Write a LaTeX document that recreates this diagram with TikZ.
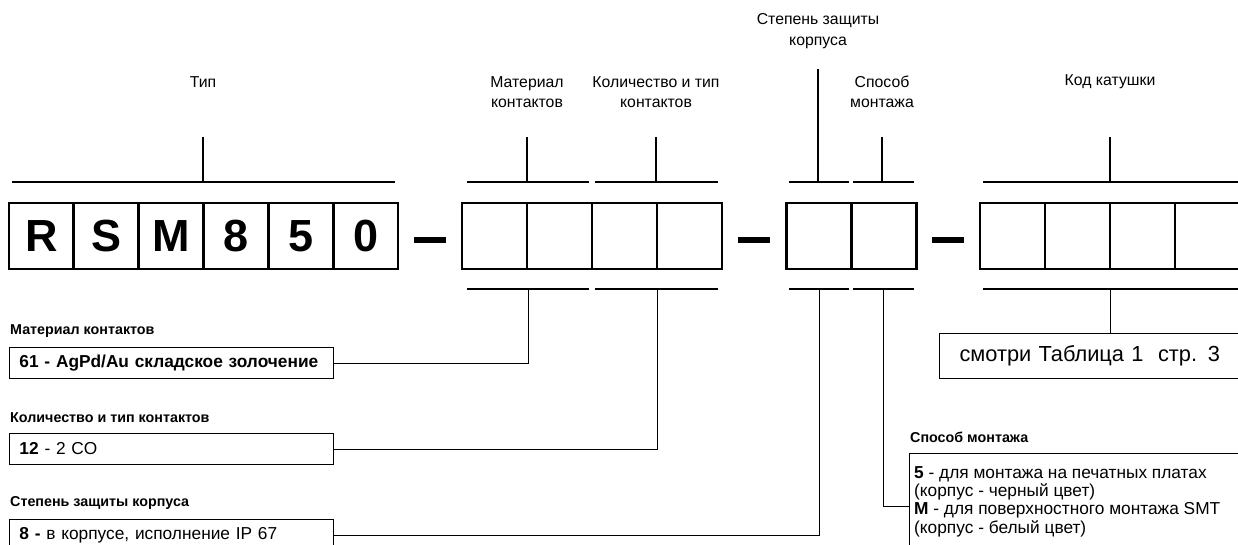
\documentclass[tikz,border=0pt]{standalone}
\usepackage{fontspec}
\setmainfont{Liberation Sans}
\begin{document}
\begin{tikzpicture}[x=1pt,y=-1pt,
  cell/.style={draw, line width=2.8pt, minimum width=65pt, minimum height=66pt, inner sep=0pt,
    font=\fontsize{45}{45}\selectfont\bfseries},
  dashbar/.style={fill=black, draw=none, minimum width=32pt, minimum height=6.5pt, inner sep=0pt},
  brk/.style={line width=2pt},
  stem/.style={line width=1.5pt},
  conn/.style={line width=1pt},
  lbl/.style={align=center, inner sep=0pt, font=\fontsize{15.8}{20.5}\selectfont},
  head/.style={anchor=west, inner sep=0pt, font=\fontsize{14.3}{17}\selectfont\bfseries},
  infobox/.style={draw, line width=1pt, anchor=west, minimum height=31pt, inner xsep=10pt, inner ysep=0pt,
    text width=304pt, align=left, font=\fontsize{17.3}{18}\selectfont},
]
\useasboundingbox (0,0) rectangle (1238,544);

% code cells
\foreach \t [count=\i] in {R,S,M,8,5,0}
  \node[cell] (a\i) at ({9+64.83*(\i-0.5)},236) {\t};
\foreach \i in {1,...,4}
  \node[cell] (b\i) at ({462+65*(\i-0.5)},236) {};
\foreach \i in {1,2}
  \node[cell] (c\i) at ({786+65.5*(\i-0.5)},236) {};
\foreach \i in {1,...,4}
  \node[cell] (d\i) at ({980+65*(\i-0.5)},236) {};

\node[dashbar] (m1) at (430,240) {};
\node[dashbar] (m2) at (754,240) {};
\node[dashbar] (m3) at (948,240) {};

% top brackets
\coordinate (ta) at (203,182);
\coordinate (tb) at (527,182);
\coordinate (tc) at (656,182);
\coordinate (td) at (818,182);
\coordinate (te) at (882,182);
\coordinate (tf) at (1110,182);
\draw[brk] (12,182) -- (395,182);
\draw[brk] (467,182) -- (589,182);
\draw[brk] (595,182) -- (718,182);
\draw[brk] (789,182) -- (849,182);
\draw[brk] (853,182) -- (914,182);
\draw[brk] (983,182) -- (1238,182);

% bottom brackets
\coordinate (ub) at (528,289);
\coordinate (uc) at (657,289);
\coordinate (ud) at (819,289);
\coordinate (ue) at (883,289);
\coordinate (uf) at (1110,289);
\draw[brk] (467,289) -- (589,289);
\draw[brk] (595,289) -- (718,289);
\draw[brk] (789,289) -- (849,289);
\draw[brk] (853,289) -- (914,289);
\draw[brk] (983,289) -- (1238,289);

% top labels
\node[lbl] (lA) at (203,82) {Тип};
\node[lbl] (lB) at (527,92) {Материал\\контактов};
\node[lbl] (lC) at (656,92) {Количество и тип\\контактов};
\node[lbl] (lD) at (818,31) {Степень защиты\\корпуса};
\node[lbl] (lE) at (882,92) {Способ\\монтажа};
\node[lbl] (lF) at (1110,82) {Код катушки};

\draw[stem] (ta) -- ++(0,-45);
\draw[stem] (tb) -- ++(0,-45);
\draw[stem] (tc) -- ++(0,-45);
\draw[stem] (td) -- ++(0,-113);
\draw[stem] (te) -- ++(0,-45);
\draw[stem] (tf) -- ++(0,-45);

% left descriptions
\node[head] (h1) at (10,331) {Материал контактов};
\node[infobox] (i1) at (9,363) {\bfseries 61 - AgPd/Au складское золочение};
\node[head] (h2) at (10,418) {Количество и тип контактов};
\node[infobox] (i2) at (9,449) {\textbf{12} - 2 CO};
\node[head] (h3) at (10,503) {Степень защиты корпуса};
\node[infobox] (i3) at (9,535) {\textbf{8 -} в корпусе, исполнение IP 67};

\draw[conn] (i1.east) -| (ub);
\draw[conn] (i2.east) -| (uc);
\draw[conn] (i3.east) -| (ud);

% right descriptions
\node[draw, line width=1pt, anchor=north west, minimum width=320pt, minimum height=45pt, inner xsep=20pt,
  text width=280pt, align=left, font=\fontsize{21.8}{24}\selectfont] (s1) at (939,333) {смотри Таблица 1~~стр. 3};
\draw[conn] (uf) -- (uf |- s1.north);

\node[head] (h5) at (910,437) {Способ монтажа};
\node[draw, line width=1pt, anchor=north west, minimum width=340pt, minimum height=110pt] (i5) at (909,453) {};
\node[anchor=north west, inner sep=0pt, align=left, font=\fontsize{17.3}{18.3}\selectfont] (i5t) at (914,466)
  {\textbf{5} - для монтажа на печатных платах\\(корпус - черный цвет)\\\textbf{M} - для поверхностного монтажа SMT\\(корпус - белый цвет)};
\coordinate (k5) at (909,506);
\draw[conn] (ue) |- (k5);
\end{tikzpicture}
\end{document}
